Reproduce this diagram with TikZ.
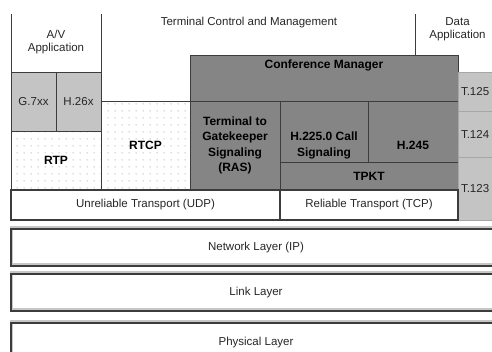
\documentclass[tikz,border=0pt]{standalone}
\usepackage{fontspec}
\setmainfont{Liberation Sans}
\usepackage{tikz}
\usetikzlibrary{patterns.meta}
\usepackage{xcolor}
\definecolor{stkdark}{RGB}{133,133,133}
\definecolor{stklight}{RGB}{196,196,196}
\definecolor{stkline}{RGB}{60,60,60}
\tikzdeclarepattern{
    name=sparsedots,
    type=uncolored,
    bounding box={(0,0) and (7pt,7pt)},
    tile size={(7pt,7pt)},
    code={\fill (3.5pt,3.5pt) circle (0.7pt);}
}
\tikzset{
    cell/.style={
        draw=stkline,line width=0.9pt,anchor=north west,inner sep=0pt,outer sep=0pt,
        align=center,text=black!85,font=\fontsize{11.5}{13}\selectfont
    },
    shaded/.style={
        cell,fill=#1,font=\bfseries\fontsize{12}{15.5}\selectfont,text=black
    },
    shaded/.default=stkdark,
    dotted cell/.style={
        cell,pattern=sparsedots,pattern color=black!35,
        font=\bfseries\fontsize{12}{15.5}\selectfont,text=black
    },
    tcell/.style={
        cell,draw=black!35,fill=stklight,text width=34pt,align=left
    },
    transport/.style={cell,line width=1.2pt},
    layer/.style={
        cell,draw=stkline,line width=1.3pt,
        preaction={draw=black!22,line width=3pt,transform canvas={yshift=1.3pt}}
    },
    lbl/.style={inner sep=0pt,align=center,font=\fontsize{11.5}{13}\selectfont,text=black!85},
    blbl/.style={inner sep=0pt,align=center,font=\bfseries\fontsize{12}{15.5}\selectfont}
}

\begin{document}
\begin{tikzpicture}[x=1pt,y=-1pt]

\useasboundingbox (0,0) rectangle (492,352);

\begin{scope}
\clip (0,14.5) rectangle (492,352);

% application level
\node[cell,minimum width=314pt,minimum height=88pt,
label={[lbl,anchor=north,yshift=-4pt,xshift=-9pt]north:Terminal Control and Management}]
(tcm) at (101,13) {};
\node[cell,minimum width=85pt,minimum height=59pt,
label={[lbl,anchor=north,yshift=-4pt]north:Data\\Application}]
(data) at (415,13) {};
\node[shaded,minimum width=268pt,minimum height=46pt,
label={[blbl,anchor=north,yshift=-5pt]north:Conference Manager}]
(cm) at (190,55) {};
\node[cell,minimum width=90pt,minimum height=59pt]
(av) at (11,13) {A/V\\Application};

% codecs and media transport
\node[shaded=stklight,font=\fontsize{11.5}{13}\selectfont,text=black!85,
minimum width=45pt,minimum height=59pt] (g7) at (11,72) {G.7xx};
\node[shaded=stklight,font=\fontsize{11.5}{13}\selectfont,text=black!85,
minimum width=45pt,minimum height=59pt] (h26) at (56,72) {H.26x};
\node[dotted cell,minimum width=90pt,minimum height=59pt] (rtp) at (11,131) {RTP};
\node[dotted cell,minimum width=89pt,minimum height=89pt] (rtcp) at (101,101) {RTCP};

% signaling
\node[shaded,minimum width=90pt,minimum height=89pt] (ras) at (190,101)
{Terminal to\\Gatekeeper\\Signaling\\(RAS)};
\node[shaded,minimum width=88pt,minimum height=61pt,
label={[blbl,yshift=-14pt]center:H.225.0 Call\\Signaling}] (h225) at (280,101) {};
\node[shaded,minimum width=90pt,minimum height=61pt,
label={[blbl,yshift=-14pt]center:H.245}] (h245) at (368,101) {};
\node[shaded,minimum width=178pt,minimum height=28pt] (tpkt) at (280,162) {TPKT};

% data conferencing
\node[tcell,minimum width=40pt,minimum height=39pt] (t125) at (458,72) {T.125};
\node[tcell,minimum width=40pt,minimum height=46pt] (t124) at (458,111) {T.124};
\node[tcell,minimum width=40pt,minimum height=63pt] (t123) at (458,157) {T.123};

% transport and lower layers
\node[transport,minimum width=269pt,minimum height=30pt] (udp) at (11,190)
{Unreliable Transport (UDP)};
\node[transport,minimum width=178pt,minimum height=30pt] (tcp) at (280,190)
{Reliable Transport (TCP)};
\node[layer,minimum width=490pt,minimum height=37pt] (net) at (11,229)
{Network Layer (IP)};
\node[layer,minimum width=490pt,minimum height=37pt] (link) at (11,274)
{Link Layer};
\node[layer,minimum width=490pt,minimum height=40pt] (phys) at (11,323)
{Physical Layer};

\end{scope}

\end{tikzpicture}
\end{document}
